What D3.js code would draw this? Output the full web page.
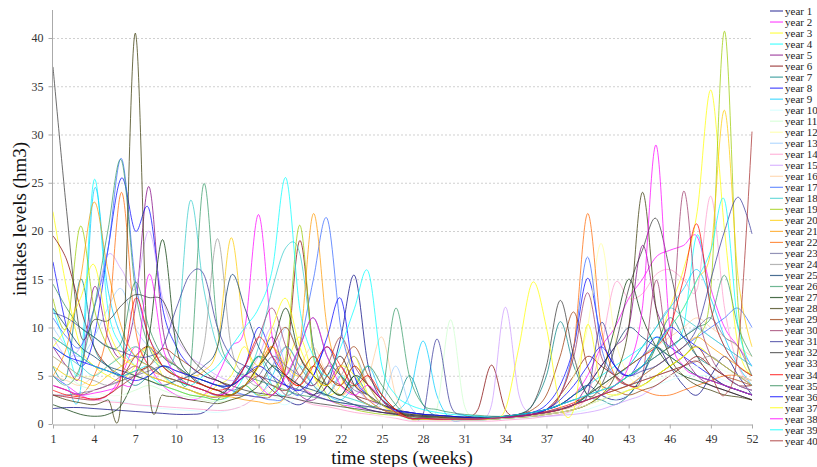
<!DOCTYPE html>
<html>
<head>
<meta charset="utf-8">
<script src="https://cdn.jsdelivr.net/npm/d3@7"></script>
<style>
  body { margin: 0; background: #fff; }
  svg { display: block; }
  svg text { font-family: "Liberation Serif", "Times New Roman", Times, serif; }
</style>
</head>
<body>
<svg id="chart" width="817" height="467"></svg>
<script>
//// DATA

const weeks = d3.range(1, 53);
const tickWeeks = [1, 4, 7, 10, 13, 16, 19, 22, 25, 28, 31, 34, 37, 40, 43, 46, 49, 52];
const yTicks = [0, 5, 10, 15, 20, 25, 30, 35, 40];

// excel-ish line colours, one per year
const colors = [
  "#000080", "#FF00FF", "#FFFF00", "#00FFFF", "#800080", "#800000", "#008080", "#0000FF",
  "#00CCFF", "#CCFFFF", "#CCFFCC", "#FFFF99", "#99CCFF", "#FF99CC", "#CC99FF", "#FFCC99",
  "#3366FF", "#33CCCC", "#99CC00", "#FFCC00", "#FF9900", "#FF6600", "#666699", "#969696",
  "#003366", "#339966", "#003300", "#333300", "#993300", "#993366", "#333399", "#333333",
  "#FFFFFF", "#FF0000", "#2E8B57", "#0000FF", "#FFFF00", "#FF00FF", "#00FFFF", "#A52A2A"
];

const year1 = [1.6,1.7,1.7,1.6,1.5,1.4,1.3,1.2,1.1,1.0,1.0,1.2,2.5, 4,6,5,3.5,2.5,2,3,4,9,15.4,6,2.5,1.5, 1.2,1,0.9,0.8,0.7,0.6,0.6,0.7,0.8,1,1.5,2,3, 4,3,2.5,3,5,8,6,4,3,5,7,5,3];
const year2 = [5,4,3,2.5,3,5,8,6,4,3,2.5,3,5, 8,10,21.7,9,5,4,3,2.5,2,1.8,1.5,1.2,1, 0.9,0.8,0.7,0.6,0.6,0.5,0.6,0.8,1,1.2,1.5,2,3, 5,8,10,13,15,17.3,18,18.5,19.4,14,10,8,6];
const year3 = [22,14,8,6,5,4.5,6,8,5,4,3.5,3,4, 5,8,4,3,6,9,5,3,4,7,3,2,1.2, 0.5,0.5,0.4,0.4,0.4,0.4,0.5,0.6,0.8,1,1.2,1.5,2, 2.5,3,4,5,6,8,12,16,22,34.6,20,8,5];
const year4 = [12,8,6,25.3,12,8,6,5,4,3.5,3,2.8,2.5, 3,5,7,4,3,6,4,3,5,3,2,1.5,1, 0.6,0.5,0.5,0.5,0.4,0.4,0.5,0.6,0.8,1,1.5,2,3, 4,5,6,7,8,9,8,10,19.6,12,8,6,5];
const year5 = [8,6,5,14.2,9,7,12,24.6,10,6,5,4,3.5, 3,4,6,9,5,3,2.5,4,6,3,2,1.5,1, 0.7,0.6,0.6,0.5,0.5,0.5,0.6,0.7,0.8,1,1.2,1.5,2, 4,6,8,10,18.5,12,9,7,5,4,3.5,3,2.5];
const year6 = [19.5,17,12,8,6,5,7,8,6,5,4.5,4,3.5, 3,3,2.8,3,6,19,8,5,4,3,2.5,2,1.5, 1.2,1,0.9,0.8,0.7,1.5,6.1,1.5,0.8,1,1.5,3,5, 7,6,5,4,4,5,6,7,8,6,5,4,4];
const year7 = [6,5,15,8,6,5,4,5,6,5,4,3.5,3, 4,5,7,5,3,4,6,4,3,5,3,2,2, 5,2,0.8,0.7,0.6,0.6,0.7,0.8,1,2,5,10.6,6, 3,2.5,2,3,5,8,11,9,7,6,5,4,3.5];
const year8 = [16.8,10,6,9,18,25.5,20,22.3,12,8,6,5,4.5, 4,6,10,7,4,3,5,8,5,3,2,1.5,1, 0.8,0.7,0.6,0.6,0.5,0.5,0.6,0.7,0.9,1.2,2,4,8, 15.1,9,6,5,7,9,8,7,6,5,4,3.5,3];
const year9 = [5,4,3.5,24.3,14,9,7,6,5,4,3.5,3,2.8, 3,4,3,5,8,6,4,3,2.5,4,6,3,1.5, 3,8.6,3,0.5,0.4,0.4,0.5,0.6,0.8,1,1.3,1.6,2, 3,4,5,6,8,10,12,14,16,13,9,6,4];
const year10 = [4,3.5,3,2.8,2.5,2.3,2,1.8,1.6,1.5,1.4,1.3,1.2, 1.5,2,3,2.5,2,3,4,3,2,2.5,2,1.5,1, 0.4,0.4,0.4,0.4,0.4,0.4,0.5,0.5,0.6,0.7,0.8,1,1.2, 1.5,2,2.5,3,3.5,4,4.5,5,5,5,4.5,4,3.5];
const year11 = [6,5,4,3.5,3,3,3.5,4,3.5,3,2.8,2.5,2.3, 2.5,3,4,3,2.5,3.5,5,4,3,2.5,2,1.5,1, 0.6,0.6,1.5,10.8,2,0.8,0.6,0.6,0.7,0.8,1,1.2,1.5, 2,2.5,3,3.5,4,4.5,5,5.5,6,6,5.5,5,4.5];
const year12 = [7,6,5,5,6,7,8,7,6,5,4.5,4,3.5, 3,4,6,8,5,4,3.5,6,9,5,3,2,1.2, 0.6,0.6,0.5,0.5,0.5,0.5,0.6,0.7,0.8,1,1.5,2.5,5, 10,18.7,9,5,4,5,6,7,8,7,6,5,4.5];
const year13 = [10,8,7,9,12,14,10,8,7,6,5,4.5,4, 3.5,3,4,6,10,7,4,3,5,4,2.5,2,6, 2,0.7,0.6,0.6,0.5,0.5,0.6,0.7,0.8,1,1.2,1.5,2, 2.5,3,4,5,6,7,8,9,10,9,8,7,6];
const year14 = [3,2.8,2.6,2.5,2.3,2.2,2,1.9,1.8,1.7,1.6,1.5,1.4, 1.5,2,3,4,3,2.5,2,1.8,1.5,1.2,1,0.8,0.6, 0.3,0.3,0.3,0.3,0.3,0.3,0.3,0.4,0.5,0.6,0.8,1,1.5, 3,8,14.6,13,13.5,15.5,16,15,14,23.6,12,6,4];
const year15 = [9,7,8,12,17.5,16,14,20,13,9,7,6,5, 4.5,5,7,10,6,4,3,5,7,4,2.5,2,1.5, 0.9,0.8,0.7,0.6,0.6,0.6,2,12.1,3,1,0.8,0.9,1, 1.2,1.5,2,2.5,3,4,5,6,7,6,5,4,3.5];
const year16 = [5,4.5,4,5,6,7,6,5,4.5,4,3.5,3,2.8, 3,4,6,5,4,6,8,5,3,4,5,9,3, 0.6,0.5,0.5,0.5,0.4,0.4,0.5,0.6,0.7,0.9,1.1,1.4,1.8, 2.5,3.5,5,6,7,8,9,10,11,10,9,8,7];
const year17 = [11,9,8,12,18,27.5,15,9,7,6,5,4.5,4, 3.5,3,2.8,2.5,3,8,15,21.3,10,5,3,2,1.5, 1.2,1,0.9,0.8,0.7,0.6,0.6,0.7,0.8,1,1.5,3,8, 17.3,8,5,4,5,6,7,8,9,10,11,12,10];
const year18 = [8,7,6,5,6,7,8,7,6,8,23.1,14,8, 6,5,8,14,18.3,17.7,8,4,3,2.5,2,1.5,1.2, 1,0.9,0.8,0.7,0.6,0.6,0.6,0.7,0.8,1,1.2,1.5,2, 3,4,5,6,8,10,12,11,10,9,8,7,6];
const year19 = [13,10,20.5,12,8,6,5,4.5,4,3.5,3,2.8,2.5, 3,4,3,3.5,7,20.6,7,3,2,1.5,1.2,1,0.9, 0.8,0.7,0.6,0.6,0.5,0.5,0.5,0.6,0.7,0.8,1,1.2,1.5, 2,2.5,3,3.5,4,5,6,7,9,14,40.7,12,5];
const year20 = [6,5,4.5,4,5,6,7,8,7,6,5,5.5,8, 19.3,9,6,8,6,5,7,5,4,6,4,2,1.2, 0.9,0.8,0.7,0.6,0.6,0.5,0.5,0.6,0.7,0.8,1,1.2,1.5, 2,3,4,5,6,8,10,12,15,18,32.5,15,8];
const year21 = [5,8,15,23,16,10,7,6,5,4.5,4,3.5,3, 2.8,2.5,2.3,2.1,3,8,21.8,10,5,3,2,1.5,1.2, 1,0.9,0.8,0.7,0.6,0.6,0.6,0.7,0.8,1,1.2,1.5,2, 2.5,3,3.5,4,5,6,7,8,9,8,7,6,5];
const year22 = [4,3.5,3,5,10,24,10,6,5,4.5,4,3.5,3, 3,4,6,8,5,4,6,4,3,4,2.5,1.5,1, 0.6,0.5,0.5,0.5,0.5,0.5,0.6,0.7,0.8,1,1.5,3,8, 21.8,10,5,4,3.5,3,3,3.5,4,4.5,5,5,4.5];
const year23 = [3,3,3.2,3.5,4,4.5,5,5.5,6,5.5,5,4.5,4, 3.5,4,5,7,6,5,4,6,5,3.5,3,2,1.5, 0.8,0.7,0.7,0.6,0.6,0.6,0.7,0.8,1,1.2,1.5,2,2.5, 3,3.5,4,5,6,7,8,9,10,11,9,8,5];
const year24 = [7,6,5,4.5,4,4.5,5,6,7,6,5,8,19.2, 8,5,4,6,8,6,4,3,5,7,4,2,1.5, 0.9,0.8,0.7,0.6,0.6,0.6,0.6,0.7,0.8,1,1.2,1.5,2, 2.5,3,3.5,4,4.5,5,5.5,6,6.5,7,6,5,4.5];
const year25 = [12,10,8,7,6,5.5,5,4.5,4,4.5,5,6,8, 15.4,12,8,6,5,4,3.5,3,2.5,2,1.5,1.2,1, 0.9,0.8,0.7,0.6,0.6,0.6,0.7,0.8,1,1.2,1.5,2,3, 4,6,8,10,9,8,7,6,5,4.5,4,3.5,3];
const year26 = [5,4,6,12,20,27.3,14,8,6,5,5.5,24.9,10, 6,5,4.5,4,3.5,3,2.8,2.5,2.2,2,1.8,3,12, 5,2,1.5,1.2,1,0.9,0.8,0.8,0.9,1,1.2,1.5,2, 2.5,3,4,5,6,7,8,9,10,11,15.4,10,7];
const year27 = [2,1.5,1,0.8,1,2,5,9,19.1,8,5,4,3.5, 3,4,6,8,12,7,5,4,3,5,4,2.5,1.5, 0.7,0.7,0.6,0.6,0.6,0.5,0.6,0.7,0.8,1,1.2,1.5,2, 3,5,10,15,11,8,6,5,4.5,4,3.5,3,2.5];
const year28 = [3,2.5,2.2,2,2.5,3,40.5,4,3,2.8,2.5,2.3,2.1, 2.5,3,4,6,5,4,3,5,7,4,3,2,1.5, 0.6,0.6,0.5,0.5,0.5,0.5,0.5,0.6,0.7,0.8,1,1.2,1.5, 2,3,5,10,24,12,7,5,4,3.5,3,2.8,2.5];
const year29 = [9,8,7,6,5.5,5,5.5,6,7.8,7,6,5,4.5, 4,5,6,8,10,7,5,4,6,8,5,3,1.5, 0.8,0.7,0.7,0.6,0.6,0.6,0.7,0.8,1,1.5,3,7,11.6, 6,4,3.5,3,3.5,4,5,6,7,6,5,4.5,4];
const year30 = [4,3.5,3,3.5,4,5,6,5,4.5,4,3.5,3,2.8, 4,6,9,12,8,5,4,6,9,6,4,2.5,1.5, 0.6,0.5,0.5,0.5,0.5,0.5,0.6,0.7,0.8,1,1.5,3,7, 13.6,7,5,4,5,14.9,8,24.1,12,7,5,4,3.5];
const year31 = [11.5,11,10,9,8,7.5,7,7,8,12,15.5,15.5,10, 7,6,5,4.5,4,3.5,3,2.5,2.2,2,1.8,1.5,1.3, 1.1,1,8.8,2,0.9,0.8,0.7,0.8,1,1.2,1.5,2,2.5, 3,10.5,6,5,5.5,6,7,8,10,15,20,23.5,19.7];
const year32 = [37,22,9.3,10.8,10.7,12.3,13.4,13.1,12.8,9.5,7,5.5,4.5, 4,3.5,3.2,3,2.8,2.5,2.2,2,1.8,1.6,1.4,1.2,1.1, 1,0.9,0.8,0.8,0.7,0.7,0.6,0.8,1,2,6,12.8,7, 3,4,8,14,18,21.3,16,10,7,5,4,3.5,3];
const year33 = [4,4,3.5,3.5,3,3,3,3,2.8,2.6,2.4,2.2,2, 1.9,1.8,1.7,1.6,1.5,1.4,1.3,1.2,1.1,1,0.9,0.8,0.7, 0.7,0.6,0.6,0.5,0.5,0.5,0.5,0.6,0.7,0.8,1,1.2,1.5, 2,2.5,3,3.5,4,4.5,5,5.5,6,6,5.5,5,4.5];
const year34 = [3.5,3,2.8,2.6,3,5,13,9,6,5,4.5,4,3.5, 4,6,9,7,5,4,6,8,6,4,5,3,1.5, 0.6,0.6,0.5,0.5,0.5,0.5,0.6,0.7,0.8,1,1.3,1.7,2.2, 3,4,5,6,7,8,10,15,20.7,12,8,6,5];
const year35 = [14.5,12,10,9,8,8.5,14.7,10,7,6,5,4.5,4, 4,5,7,6,5,8,11,7,5,4,6,4,2, 0.7,0.7,0.6,0.6,0.5,0.5,0.6,0.7,0.8,1,1.2,1.5,2, 3,4,5,6,7,8,7,6,5,4.5,4,3.5,3];
const year36 = [8,7,6.5,6,5.5,5,4.5,5,6,5.5,5,4.5,4, 4,5,6,5,4,3.5,5,9,13,5,3,2,1.4, 1.2,1,0.9,0.8,0.7,0.6,0.6,0.7,0.8,1,1.5,2.5,4, 6,8,6,5,6,8,10,9,8,7,6,5,4];
const year37 = [8,10,13,16.5,10,7,6,5,4.5,4,3.5,3,2.8, 3,4,6,10,13,8,5,4,6,5,3,2,1.2, 0.6,0.5,0.5,0.5,0.5,0.5,0.6,1.5,8,14.7,10,2,1.5, 10.3,4,3,3.5,4,5,6,7,8,7,6,5,4];
const year38 = [4,3.5,3,3.2,3.5,4,5,15.5,8,5,4,3.5,3, 3.5,5,4,3,5,8,11,7,4,3,4,2.5,1.2, 0.6,0.6,0.5,0.5,0.5,0.5,0.6,0.7,0.8,1,1.2,1.5,2, 2.5,3,4,6,12,28.9,10,6,5,4.5,4,3.5,3];
const year39 = [9,8,7,6,5.5,5,5.5,6,5,4.5,4,5,6, 8,10,12,16,25.5,12,7,5,8,12,15.8,6,3, 2,1.5,1.2,1,0.9,0.8,0.7,0.8,1,1.2,1.5,2,2.5, 3,3.5,4,5,6,8,10,12,15,18,23.2,10,6];
const year40 = [3,2.8,2.6,2.5,3,4,5,6,5,4.5,4,3.5,3, 3,4,5,4,3.5,5,7,5,4,6,4,2.5,1.2, 0.6,0.6,0.5,0.5,0.5,0.5,0.6,0.7,0.8,1,1.2,1.5,2, 2.5,3,3.5,4,4.5,5,5.5,6,6.5,5,3,8,30.3];

const years = [year1, year2, year3, year4, year5, year6, year7, year8, year9, year10,
  year11, year12, year13, year14, year15, year16, year17, year18, year19, year20,
  year21, year22, year23, year24, year25, year26, year27, year28, year29, year30,
  year31, year32, year33, year34, year35, year36, year37, year38, year39, year40];
const yearLabels = years.map((d, i) => "year " + (i + 1));

//// SETTINGS

const serif = "'Liberation Serif', 'Times New Roman', Times, serif";
const svg = d3.select("#chart");
const plot = { left: 53, right: 752, top: 10, bottom: 424 };

const x = d3.scaleLinear().domain([1, 52]).range([plot.left, plot.right]);
const y = d3.scaleLinear().domain([0, 42.9]).range([plot.bottom, plot.top]);

//// DRAW

svg.append("clipPath")
  .attr("id", "plotClip")
  .append("rect")
  .attr("x", plot.left)
  .attr("y", 0)
  .attr("width", plot.right - plot.left + 2)
  .attr("height", plot.bottom);

// gridlines
svg.append("g")
  .selectAll("line")
  .data(yTicks.filter(d => d > 0))
  .enter()
  .append("line")
  .attr("x1", plot.left)
  .attr("x2", plot.right)
  .attr("y1", d => y(d) + 0.5)
  .attr("y2", d => y(d) + 0.5)
  .style("stroke", "#d0d0d0")
  .style("stroke-dasharray", "2,2");

// smoothed lines, excel style
const line = d3.line()
  .x((d, i) => x(weeks[i]))
  .y(d => y(d))
  .curve(d3.curveCardinal.tension(0));

svg.append("g")
  .attr("clip-path", "url(#plotClip)")
  .selectAll("path")
  .data(years)
  .enter()
  .append("path")
  .attr("d", line)
  .style("fill", "none")
  .style("stroke", (d, i) => colors[i])
  .style("stroke-width", 0.9)
  .style("opacity", 0.8);

// axes
const xAxis = svg.append("g")
  .attr("transform", `translate(0,${plot.bottom + 0.5})`)
  .call(d3.axisBottom(x).tickValues(tickWeeks).tickSize(4).tickSizeOuter(0).tickPadding(6));

const yAxis = svg.append("g")
  .attr("transform", `translate(${plot.left - 0.5},0)`)
  .call(d3.axisLeft(y).tickValues(yTicks).tickSize(4).tickSizeOuter(0).tickPadding(5));

[xAxis, yAxis].forEach(function (g) {
  g.attr("font-family", null);
  g.select(".domain").style("stroke", "#aaa");
  g.selectAll(".tick line").style("stroke", "#aaa");
  g.selectAll(".tick text")
    .style("font-family", serif)
    .style("font-size", "12px")
    .style("fill", "#333");
});
// y axis runs up to the top of the plot
yAxis.select(".domain").attr("d", `M0,${plot.bottom}V${plot.top}`);

// axis titles
svg.append("text")
  .attr("x", 402)
  .attr("y", 464)
  .attr("text-anchor", "middle")
  .style("font-family", serif)
  .style("font-size", "19px")
  .style("fill", "#111")
  .text("time steps (weeks)");

svg.append("text")
  .attr("transform", "translate(26,219) rotate(-90)")
  .attr("text-anchor", "middle")
  .style("font-family", serif)
  .style("font-size", "19px")
  .style("fill", "#111")
  .text("intakes levels (hm3)");

// legend
const legend = svg.append("g")
  .selectAll("g")
  .data(yearLabels)
  .enter()
  .append("g")
  .attr("transform", (d, i) => `translate(770,${11 + i * 11.02})`);

legend.append("line")
  .attr("x1", 0)
  .attr("x2", 13)
  .style("stroke", (d, i) => colors[i])
  .style("stroke-width", 1.2)
  .style("opacity", 0.7);

legend.append("text")
  .attr("x", 15)
  .attr("dy", "0.35em")
  .style("font-family", serif)
  .style("font-size", "11px")
  .style("fill", "#222")
  .text(d => d);
</script>
</body>
</html>
